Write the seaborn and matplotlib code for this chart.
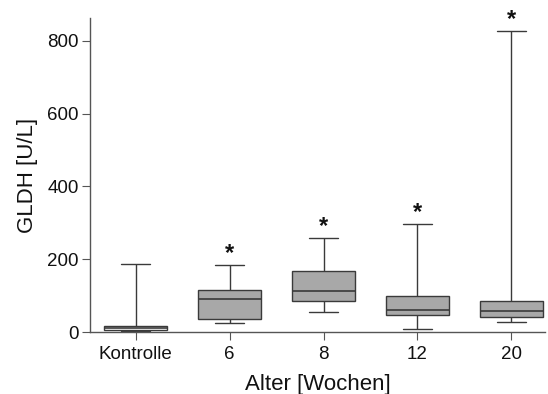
import matplotlib
matplotlib.use("Agg")
import matplotlib.pyplot as plt
import seaborn as sns
import pandas as pd

groups = ["Kontrolle", "6", "8", "12", "20"]
whisker_low = [3, 24, 55, 9, 29]
q1 = [7, 35, 85, 46, 41]
median = [10, 90, 112, 61, 57]
q3 = [18, 115, 168, 100, 85]
whisker_high = [188, 183, 258, 297, 827]
significant = [False, True, True, True, True]

rows = []
for g, a, b, c, d, e in zip(groups, whisker_low, q1, median, q3, whisker_high):
    for v in (a, b, c, d, e):
        rows.append({"Alter": g, "GLDH": v})
df = pd.DataFrame(rows)

sns.set_style("ticks")
plt.rcParams["font.family"] = ["Liberation Sans", "DejaVu Sans"]

fig = plt.figure(figsize=(5.48, 3.94), dpi=100)
ax = fig.add_axes([0.164, 0.157, 0.8305, 0.797])

edge = "#3a3a3a"
palette = {"Kontrolle": "white", "6": "#a8a8a8", "8": "#a8a8a8", "12": "#a8a8a8", "20": "#a8a8a8"}
sns.boxplot(data=df, x="Alter", y="GLDH", hue="Alter", palette=palette, order=groups,
            whis=(0, 100), width=0.67, linewidth=1.0, linecolor=edge, legend=False,
            fliersize=0, ax=ax,
            whiskerprops=dict(color=edge, linewidth=1.0),
            capprops=dict(color=edge, linewidth=1.0),
            medianprops=dict(color=edge, linewidth=1.2),
            saturation=1)
# shorten caps
for line in ax.lines:
    xd = line.get_xdata()
    yd = line.get_ydata()
    if len(xd) == 2 and yd[0] == yd[1] and abs(xd[1] - xd[0]) > 0 and abs(xd[1]-xd[0]) < 0.5:
        c = (xd[0] + xd[1]) / 2
        line.set_xdata([c - 0.155, c + 0.155])

for i, (sig, top) in enumerate(zip(significant, whisker_high)):
    if sig:
        ax.annotate("*", xy=(i, top), xytext=(0, 0), textcoords="offset points",
                    ha="center", va="bottom", fontsize=17, fontweight="bold", color="#111111")

ax.set_xlim(-0.49, 4.36)
ax.set_ylim(0, 862)
ax.set_yticks([0, 200, 400, 600, 800])
ax.set_xlabel("Alter [Wochen]", fontsize=16, color="#111111", labelpad=8)
ax.set_ylabel("GLDH [U/L]", fontsize=16, color="#111111", labelpad=7)
ax.tick_params(axis="both", labelsize=13.5, length=6, pad=2, color="#555555", labelcolor="#111111")
ax.tick_params(axis="x", pad=4)
for s in ["top", "right"]:
    ax.spines[s].set_visible(False)
for s in ["left", "bottom"]:
    ax.spines[s].set_color("#555555")
    ax.spines[s].set_linewidth(1.0)

fig.savefig("out.png", dpi=100)
